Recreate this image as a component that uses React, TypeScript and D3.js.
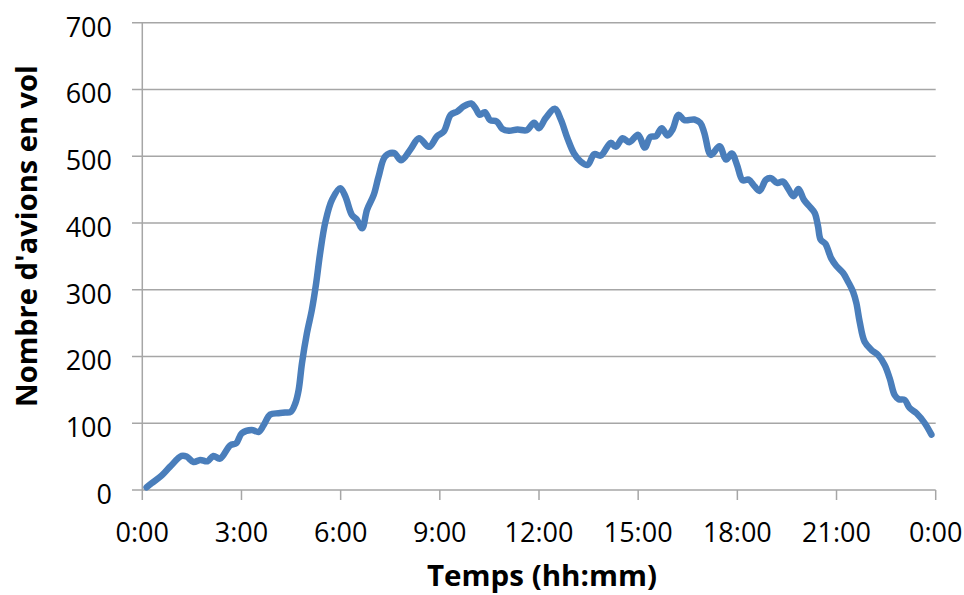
import React from "react";
import * as d3 from "d3";

const hours = [
  0.13, 0.28, 0.59, 0.84, 1.19, 1.34, 1.55, 1.75, 1.97, 2.15, 2.35, 2.66, 2.84, 3.01, 3.31, 3.52, 3.67, 3.87,
  4.12, 4.32, 4.49, 4.63, 4.73, 4.83, 4.98, 5.13, 5.26, 5.38, 5.54, 5.74, 5.99, 6.14, 6.34, 6.49, 6.65, 6.8,
  7.0, 7.15, 7.35, 7.61, 7.83, 8.11, 8.37, 8.67, 8.92, 9.12, 9.33, 9.53, 9.73, 9.95, 10.08, 10.21, 10.36,
  10.52, 10.72, 10.89, 11.09, 11.35, 11.63, 11.85, 12.0, 12.2, 12.48, 12.66, 12.86, 13.06, 13.26, 13.47,
  13.67, 13.87, 14.17, 14.32, 14.53, 14.73, 15.0, 15.2, 15.37, 15.54, 15.71, 15.89, 16.04, 16.22, 16.4,
  16.7, 16.88, 17.0, 17.2, 17.46, 17.66, 17.83, 17.99, 18.16, 18.34, 18.52, 18.67, 18.87, 19.02, 19.2,
  19.38, 19.53, 19.7, 19.85, 20.01, 20.18, 20.34, 20.44, 20.52, 20.66, 20.84, 20.99, 21.2, 21.35, 21.5,
  21.6, 21.7, 21.85, 22.05, 22.26, 22.46, 22.61, 22.76, 22.88, 23.06, 23.21, 23.42, 23.67, 23.87,
];
const flights = [
  4, 10, 22, 35, 51, 50, 42, 45, 43, 51, 47, 67, 70, 85, 90, 87, 97, 113,
  115, 116, 117, 130, 150, 190, 235, 270, 310, 355, 402, 435, 452, 440, 412, 405, 392, 420,
  442, 470, 500, 505, 494, 510, 527, 514, 530, 537, 562, 567, 575, 579, 572, 562, 566,
  554, 552, 541, 538, 540, 539, 550, 542, 557, 571, 555, 527, 504, 492, 487,
  503, 501, 520, 514, 527, 521, 532, 513, 529, 530, 542, 531, 540, 562, 554,
  555, 550, 535, 502, 515, 495, 504, 487, 464, 465, 455, 448, 465, 467, 460,
  462, 452, 440, 451, 435, 425, 415, 395, 375, 369, 347, 336, 325, 312, 297,
  280, 252, 222, 210, 202, 187, 167, 142, 136, 135, 123, 115, 100, 83,
];
const xTicks = [0, 3, 6, 9, 12, 15, 18, 21, 24];
const xTickLabels = ["0:00", "3:00", "6:00", "9:00", "12:00", "15:00", "18:00", "21:00", "0:00"];
const yTicks = [0, 100, 200, 300, 400, 500, 600, 700];
const xTitle = "Temps (hh:mm)";
const yTitle = "Nombre d'avions en vol";

export default function App() {
  const W = 964, H = 595;
  const x = d3.scaleLinear().domain([0, 24]).range([142.3, 935.7]);
  const y = d3.scaleLinear().domain([0, 700]).range([490, 22.7]);
  const pts: [number, number][] = hours.map((h, i) => [x(h), y(flights[i])]);
  const line = d3.line().curve(d3.curveCatmullRom.alpha(0.5))(pts) || "";
  const grid = "#a6a6a6";
  const font = "'Open Sans', 'DejaVu Sans', sans-serif";
  return (
    <svg width={W} height={H} style={{ position: "absolute", left: 0, top: 0, background: "#fff" }}>
      {yTicks.map((t) => (
        <g key={t}>
          <line x1={132} x2={x(24)} y1={y(t)} y2={y(t)} stroke={grid} strokeWidth={1.5} />
          <text x={112} y={y(t) + 14} textAnchor="end" fontFamily={font} fontSize={27} fill="#000">
            {t}
          </text>
        </g>
      ))}
      <line x1={x(0)} x2={x(0)} y1={y(700)} y2={y(0)} stroke={grid} strokeWidth={1.5} />
      {xTicks.map((t, i) => (
        <g key={i}>
          <line x1={x(t)} x2={x(t)} y1={y(0)} y2={y(0) + 10} stroke={grid} strokeWidth={1.5} />
          <text x={x(t)} y={541.5} textAnchor="middle" fontFamily={font} fontSize={27} fill="#000">
            {xTickLabels[i]}
          </text>
        </g>
      ))}
      <path d={line} fill="none" stroke="#4a7ebb" strokeWidth={6.5} strokeLinecap="round" strokeLinejoin="round" />
      <text x={542} y={586} textAnchor="middle" fontFamily={font} fontWeight="bold" fontSize={29}
        textLength={230} lengthAdjust="spacingAndGlyphs" fill="#000">
        {xTitle}
      </text>
      <text transform="translate(37,236) rotate(-90)" textAnchor="middle" fontFamily={font} fontWeight="bold"
        fontSize={29} textLength={342} lengthAdjust="spacingAndGlyphs" fill="#000">
        {yTitle}
      </text>
    </svg>
  );
}
